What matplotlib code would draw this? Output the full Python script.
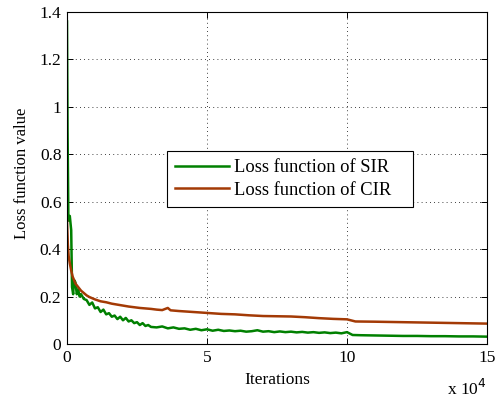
import matplotlib
matplotlib.use("Agg")
import matplotlib.pyplot as plt
from matplotlib.ticker import FixedLocator, FuncFormatter

# data in units of 1e4 iterations
sir_x = [0, 0.02, 0.05, 0.1, 0.15, 0.18, 0.22, 0.25, 0.3, 0.35, 0.4, 0.45, 0.5, 0.6, 0.7, 0.8, 0.9,
         1.0, 1.1, 1.2, 1.3, 1.4, 1.5, 1.6, 1.7, 1.8, 1.9, 2.0, 2.1, 2.2, 2.3, 2.4, 2.5, 2.6, 2.7,
         2.8, 2.9, 3.0, 3.2, 3.4, 3.6, 3.8, 4.0, 4.2, 4.4, 4.6, 4.8, 5.0, 5.2, 5.4, 5.6, 5.8, 6.0,
         6.2, 6.4, 6.6, 6.8, 7.0, 7.2, 7.4, 7.6, 7.8, 8.0, 8.2, 8.4, 8.6, 8.8, 9.0, 9.2, 9.4, 9.6,
         9.8, 10.0, 10.2, 10.5, 11, 11.5, 12, 12.5, 13, 13.5, 14, 14.5, 15]
sir_y = [1.36, 0.9, 0.52, 0.54, 0.48, 0.24, 0.21, 0.27, 0.26, 0.21, 0.23, 0.2, 0.21, 0.19, 0.185,
         0.165, 0.175, 0.15, 0.155, 0.135, 0.145, 0.125, 0.13, 0.115, 0.12, 0.105, 0.115, 0.1, 0.11,
         0.095, 0.1, 0.088, 0.092, 0.08, 0.088, 0.076, 0.08, 0.072, 0.07, 0.074, 0.066, 0.07, 0.064,
         0.066, 0.06, 0.064, 0.058, 0.062, 0.056, 0.06, 0.055, 0.057, 0.054, 0.056, 0.052, 0.054,
         0.058, 0.052, 0.054, 0.05, 0.053, 0.05, 0.052, 0.049, 0.051, 0.048, 0.05, 0.047, 0.049,
         0.046, 0.048, 0.045, 0.05, 0.038, 0.037, 0.036, 0.035, 0.034, 0.034, 0.033, 0.033, 0.032,
         0.032, 0.031]

cir_x = [0, 0.03, 0.06, 0.1, 0.15, 0.2, 0.25, 0.3, 0.4, 0.5, 0.6, 0.7, 0.8, 1.0, 1.2, 1.4, 1.6,
         1.8, 2.0, 2.2, 2.4, 2.6, 2.8, 3.0, 3.2, 3.4, 3.6, 3.7, 4.0, 4.5, 5.0, 5.5, 6.0, 6.5, 7.0,
         7.5, 8.0, 8.5, 9.0, 9.5, 10.0, 10.3, 11, 12, 13, 14, 15]
cir_y = [0.52, 0.42, 0.37, 0.34, 0.31, 0.285, 0.27, 0.255, 0.24, 0.225, 0.215, 0.205, 0.198,
         0.188, 0.18, 0.176, 0.17, 0.166, 0.162, 0.158, 0.155, 0.152, 0.15, 0.148, 0.145, 0.143,
         0.152, 0.142, 0.139, 0.135, 0.131, 0.127, 0.125, 0.121, 0.118, 0.117, 0.116, 0.113,
         0.109, 0.106, 0.104, 0.095, 0.094, 0.092, 0.09, 0.088, 0.086]

labels = ["Loss function of SIR", "Loss function of CIR"]
x_ticks = [0, 5, 10, 15]
y_ticks = [0, 0.2, 0.4, 0.6, 0.8, 1.0, 1.2, 1.4]

plt.rcParams['font.family'] = ['Liberation Serif', 'DejaVu Serif']
plt.rcParams['font.size'] = 12.5

fig = plt.figure(figsize=(5, 4), dpi=100)
ax = fig.add_axes([0.134, 0.14, 0.84, 0.83])
ax.plot(sir_x, sir_y, color="#008000", lw=1.8, label=labels[0])
ax.plot(cir_x, cir_y, color="#a33a05", lw=1.8, label=labels[1])
ax.set_xlim(0, 15)
ax.set_ylim(0, 1.4)
ax.xaxis.set_major_locator(FixedLocator(x_ticks))
ax.yaxis.set_major_locator(FixedLocator(y_ticks))
ax.yaxis.set_major_formatter(FuncFormatter(lambda v, p: "%g" % v))
ax.grid(True, color='black', linestyle=(0, (1, 4)), linewidth=0.6)
ax.tick_params(direction='in', top=True, right=True, length=4, width=0.7, pad=4)
for s in ax.spines.values():
    s.set_linewidth(0.8)
ax.set_xlabel("Iterations", labelpad=5)
ax.set_ylabel("Loss function value", fontsize=12)
ax.yaxis.set_label_coords(-0.087, 0.515)
fig.text(0.974, 0.0125, r"x 10$^4$", ha='right', va='baseline', fontsize=12.5)
leg = ax.legend(loc='lower left', bbox_to_anchor=(0.238, 0.413, 0.586, 0.17),
                mode='expand', fancybox=False,
                edgecolor='black', framealpha=1, borderaxespad=0, handlelength=2.9,
                handletextpad=0.3, borderpad=0.45, labelspacing=0.3,
                prop={'size': 13.3})
leg.get_frame().set_linewidth(0.8)
fig.savefig("out.png", dpi=100)
